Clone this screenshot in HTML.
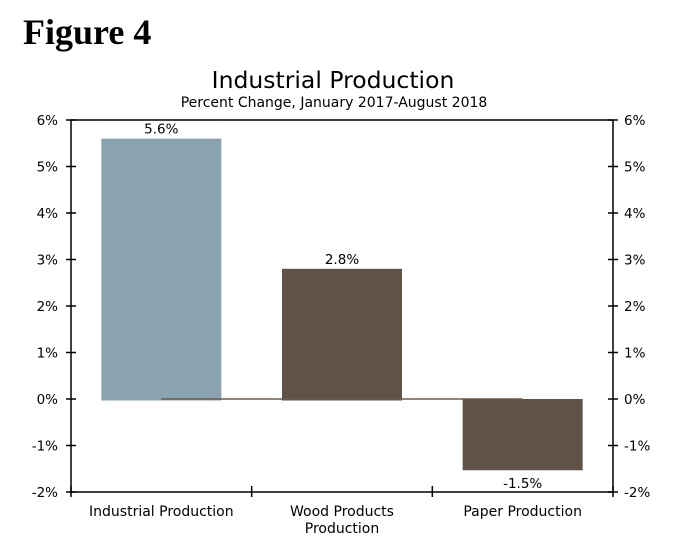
<!DOCTYPE html>
<html><head><meta charset="utf-8"><style>
body{margin:0;background:#fff;width:682px;height:545px;overflow:hidden}
svg text{font-family:"DejaVu Sans","Liberation Sans",sans-serif}
</style></head><body>
<svg id="chart" width="682" height="545" viewBox="0 0 682 545" xmlns="http://www.w3.org/2000/svg">
<text x="23" y="44" style="font-family:'Liberation Serif',serif" font-weight="bold" font-size="36">Figure 4</text>
<text x="333" y="88" text-anchor="middle" font-size="23.5">Industrial Production</text>
<text x="334" y="107" text-anchor="middle" font-size="14">Percent Change, January 2017-August 2018</text>
<g id="plot"></g>
</svg>
<script>
const categories=[["Industrial Production"],["Wood Products","Production"],["Paper Production"]];
const values=[5.6,2.8,-1.5];
const valueLabels=["5.6%","2.8%","-1.5%"];
const barColors=["#8aa3b1","#5f5247","#5f5247"];
const yTicks=[-2,-1,0,1,2,3,4,5,6];
const NS="http://www.w3.org/2000/svg";
const L=71,R=613,T=120,B=492,yMin=-2,yMax=6;
const y=v=>B-(v-yMin)/(yMax-yMin)*(B-T);
const band=(R-L)/categories.length;
const xc=i=>L+band*(i+0.5);
const g=document.getElementById('plot');
function el(t,a,txt){const e=document.createElementNS(NS,t);for(const k in a)e.setAttribute(k,a[k]);if(txt!==undefined)e.textContent=txt;g.appendChild(e);return e;}
const bw=120;
values.forEach((v,i)=>{
 const r=el('rect',{x:xc(i)-bw/2,y:Math.min(y(v),y(0)),width:bw,height:Math.abs(y(v)-y(0))+1.5,fill:barColors[i]});
 
 
 const ly=v>=0?y(v)-5:y(v)+19;
 const t=el('text',{x:xc(i),y:ly,'text-anchor':'middle','font-size':13.5},valueLabels[i]);
 
 
});
const zl=el('line',{x1:xc(0),x2:xc(values.length-1),y1:y(0),y2:y(0),stroke:'#6b5a4c','stroke-width':1.5});


const ax=(a)=>el('line',Object.assign({stroke:'#000','stroke-width':1.5},a));
let a1=ax({x1:L,x2:L,y1:T,y2:B});
let a2=ax({x1:R,x2:R,y1:T,y2:B});
let a3=ax({x1:L,x2:R,y1:B,y2:B});
let a4=ax({x1:L,x2:R,y1:T,y2:T});
yTicks.forEach(v=>{
 ax({x1:L-5,x2:L+5,y1:y(v),y2:y(v)});ax({x1:R-5,x2:R+5,y1:y(v),y2:y(v)});
 const t1=el('text',{x:L-13,y:y(v)+5,'text-anchor':'end','font-size':13.5},v+'%');
 
 
 const t2=el('text',{x:R+11,y:y(v)+5,'font-size':13.5},v+'%');
 
 
});
for(let i=0;i<=categories.length;i++){ax({x1:L+band*i,x2:L+band*i,y1:B-6,y2:B+5});}
categories.forEach((c,i)=>{c.forEach((ln,j)=>{
 const t=el('text',{x:xc(i),y:B+24+j*17,'text-anchor':'middle','font-size':14},ln);
 
 
});});
</script>
</body></html>
